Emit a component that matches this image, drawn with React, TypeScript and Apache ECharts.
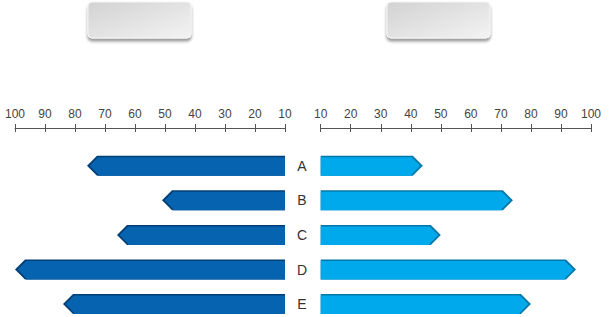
import React, { useEffect, useRef } from "react";
import * as echarts from "echarts";

const categories = ["A", "B", "C", "D", "E"];
const leftValues = [76, 51, 66, 100, 84];
const rightValues = [44, 74, 50, 95, 80];
const axisMin = 10;
const axisMax = 100;
const axisInterval = 10;

const LEFT_COLOR = "#0563AF";
const LEFT_DARK = "#023F75";
const RIGHT_COLOR = "#00A8EC";
const RIGHT_DARK = "#0278A8";

function makeRenderItem(main: string, dark: string) {
  return (params: any, api: any) => {
    const v = api.value(0);
    const cat = api.value(1);
    const base = api.coord([axisMin, cat]);
    const tip = api.coord([v, cat]);
    const dir = tip[0] >= base[0] ? 1 : -1;
    const h = 10;
    const d = 10;
    const yc = tip[1];
    const outer = [
      [base[0], yc - h],
      [tip[0] - dir * d, yc - h],
      [tip[0], yc],
      [tip[0] - dir * d, yc + h],
      [base[0], yc + h],
    ];
    const inner = [
      [base[0], yc - h + 1.5],
      [tip[0] - dir * (d + 1.2), yc - h + 1.5],
      [tip[0] - dir * 2.6, yc],
      [tip[0] - dir * (d + 1.2), yc + h - 1.2],
      [tip[0] - dir * (d + 1.2), yc + h],
      [base[0], yc + h],
    ];
    return {
      type: "group",
      children: [
        { type: "polygon", shape: { points: outer }, style: { fill: dark } },
        { type: "polygon", shape: { points: inner }, style: { fill: main } },
      ],
    };
  };
}

function xAxes(gridIndex: number, inverse: boolean) {
  const common = {
    gridIndex,
    type: "value",
    min: axisMin,
    max: axisMax,
    interval: axisInterval,
    inverse,
    position: "top",
    offset: 20.4,
    splitLine: { show: false },
  };
  return [
    {
      ...common,
      axisLine: { show: true, lineStyle: { color: "#555", width: 1 } },
      axisTick: { show: true, length: 4, lineStyle: { color: "#555", width: 1 } },
      axisLabel: { show: true, margin: 8, fontSize: 12, color: "#444" },
    },
    {
      ...common,
      axisLine: { show: false },
      axisTick: { show: true, inside: true, length: 4, lineStyle: { color: "#555", width: 1 } },
      axisLabel: { show: false },
    },
  ];
}

function boxGraphic(x: number) {
  return {
    type: "rect",
    shape: { x, y: 2, width: 103, height: 36, r: 4 },
    style: {
      fill: new echarts.graphic.LinearGradient(0, 0, 1, 1, [
        { offset: 0, color: "#d2d2d2" },
        { offset: 1, color: "#f3f3f3" },
      ]),
      stroke: "#f4f4f4",
      lineWidth: 1,
      shadowBlur: 3,
      shadowOffsetY: 3,
      shadowColor: "rgba(0,0,0,0.4)",
    },
  };
}

export default function App() {
  const ref = useRef<HTMLDivElement>(null);
  useEffect(() => {
    if (!ref.current) return;
    const chart = echarts.init(ref.current, undefined, { renderer: "svg" });
    chart.setOption({
      animation: false,
      textStyle: { fontFamily: 'Arial, "Liberation Sans", sans-serif' },
      graphic: [boxGraphic(88), boxGraphic(387)],
      grid: [
        { left: 15, top: 148.4, width: 270, height: 173 },
        { left: 320.7, top: 148.4, width: 270.3, height: 173 },
      ],
      xAxis: [...xAxes(0, true), ...xAxes(1, false)],
      yAxis: [
        {
          gridIndex: 0,
          type: "category",
          data: categories,
          inverse: true,
          axisLine: { show: false },
          axisTick: { show: false },
          axisLabel: { show: false },
        },
        {
          gridIndex: 1,
          type: "category",
          data: categories,
          inverse: true,
          axisLine: { show: false },
          axisTick: { show: false },
          axisLabel: { show: true, align: "center", margin: 18.7, fontSize: 14, color: "#333" },
        },
      ],
      series: [
        {
          type: "custom",
          xAxisIndex: 0,
          yAxisIndex: 0,
          encode: { x: 0, y: 1 },
          data: leftValues.map((v, i) => [v, i]),
          renderItem: makeRenderItem(LEFT_COLOR, LEFT_DARK),
          clip: false,
        },
        {
          type: "custom",
          xAxisIndex: 2,
          yAxisIndex: 1,
          encode: { x: 0, y: 1 },
          data: rightValues.map((v, i) => [v, i]),
          renderItem: makeRenderItem(RIGHT_COLOR, RIGHT_DARK),
          clip: false,
        },
      ],
    });
    return () => chart.dispose();
  }, []);
  return (
    <div
      style={{
        position: "fixed",
        left: 0,
        top: 0,
        width: 610,
        height: 317,
        overflow: "hidden",
        background: "#fff",
      }}
    >
      <div ref={ref} style={{ width: 610, height: 330 }} />
    </div>
  );
}
